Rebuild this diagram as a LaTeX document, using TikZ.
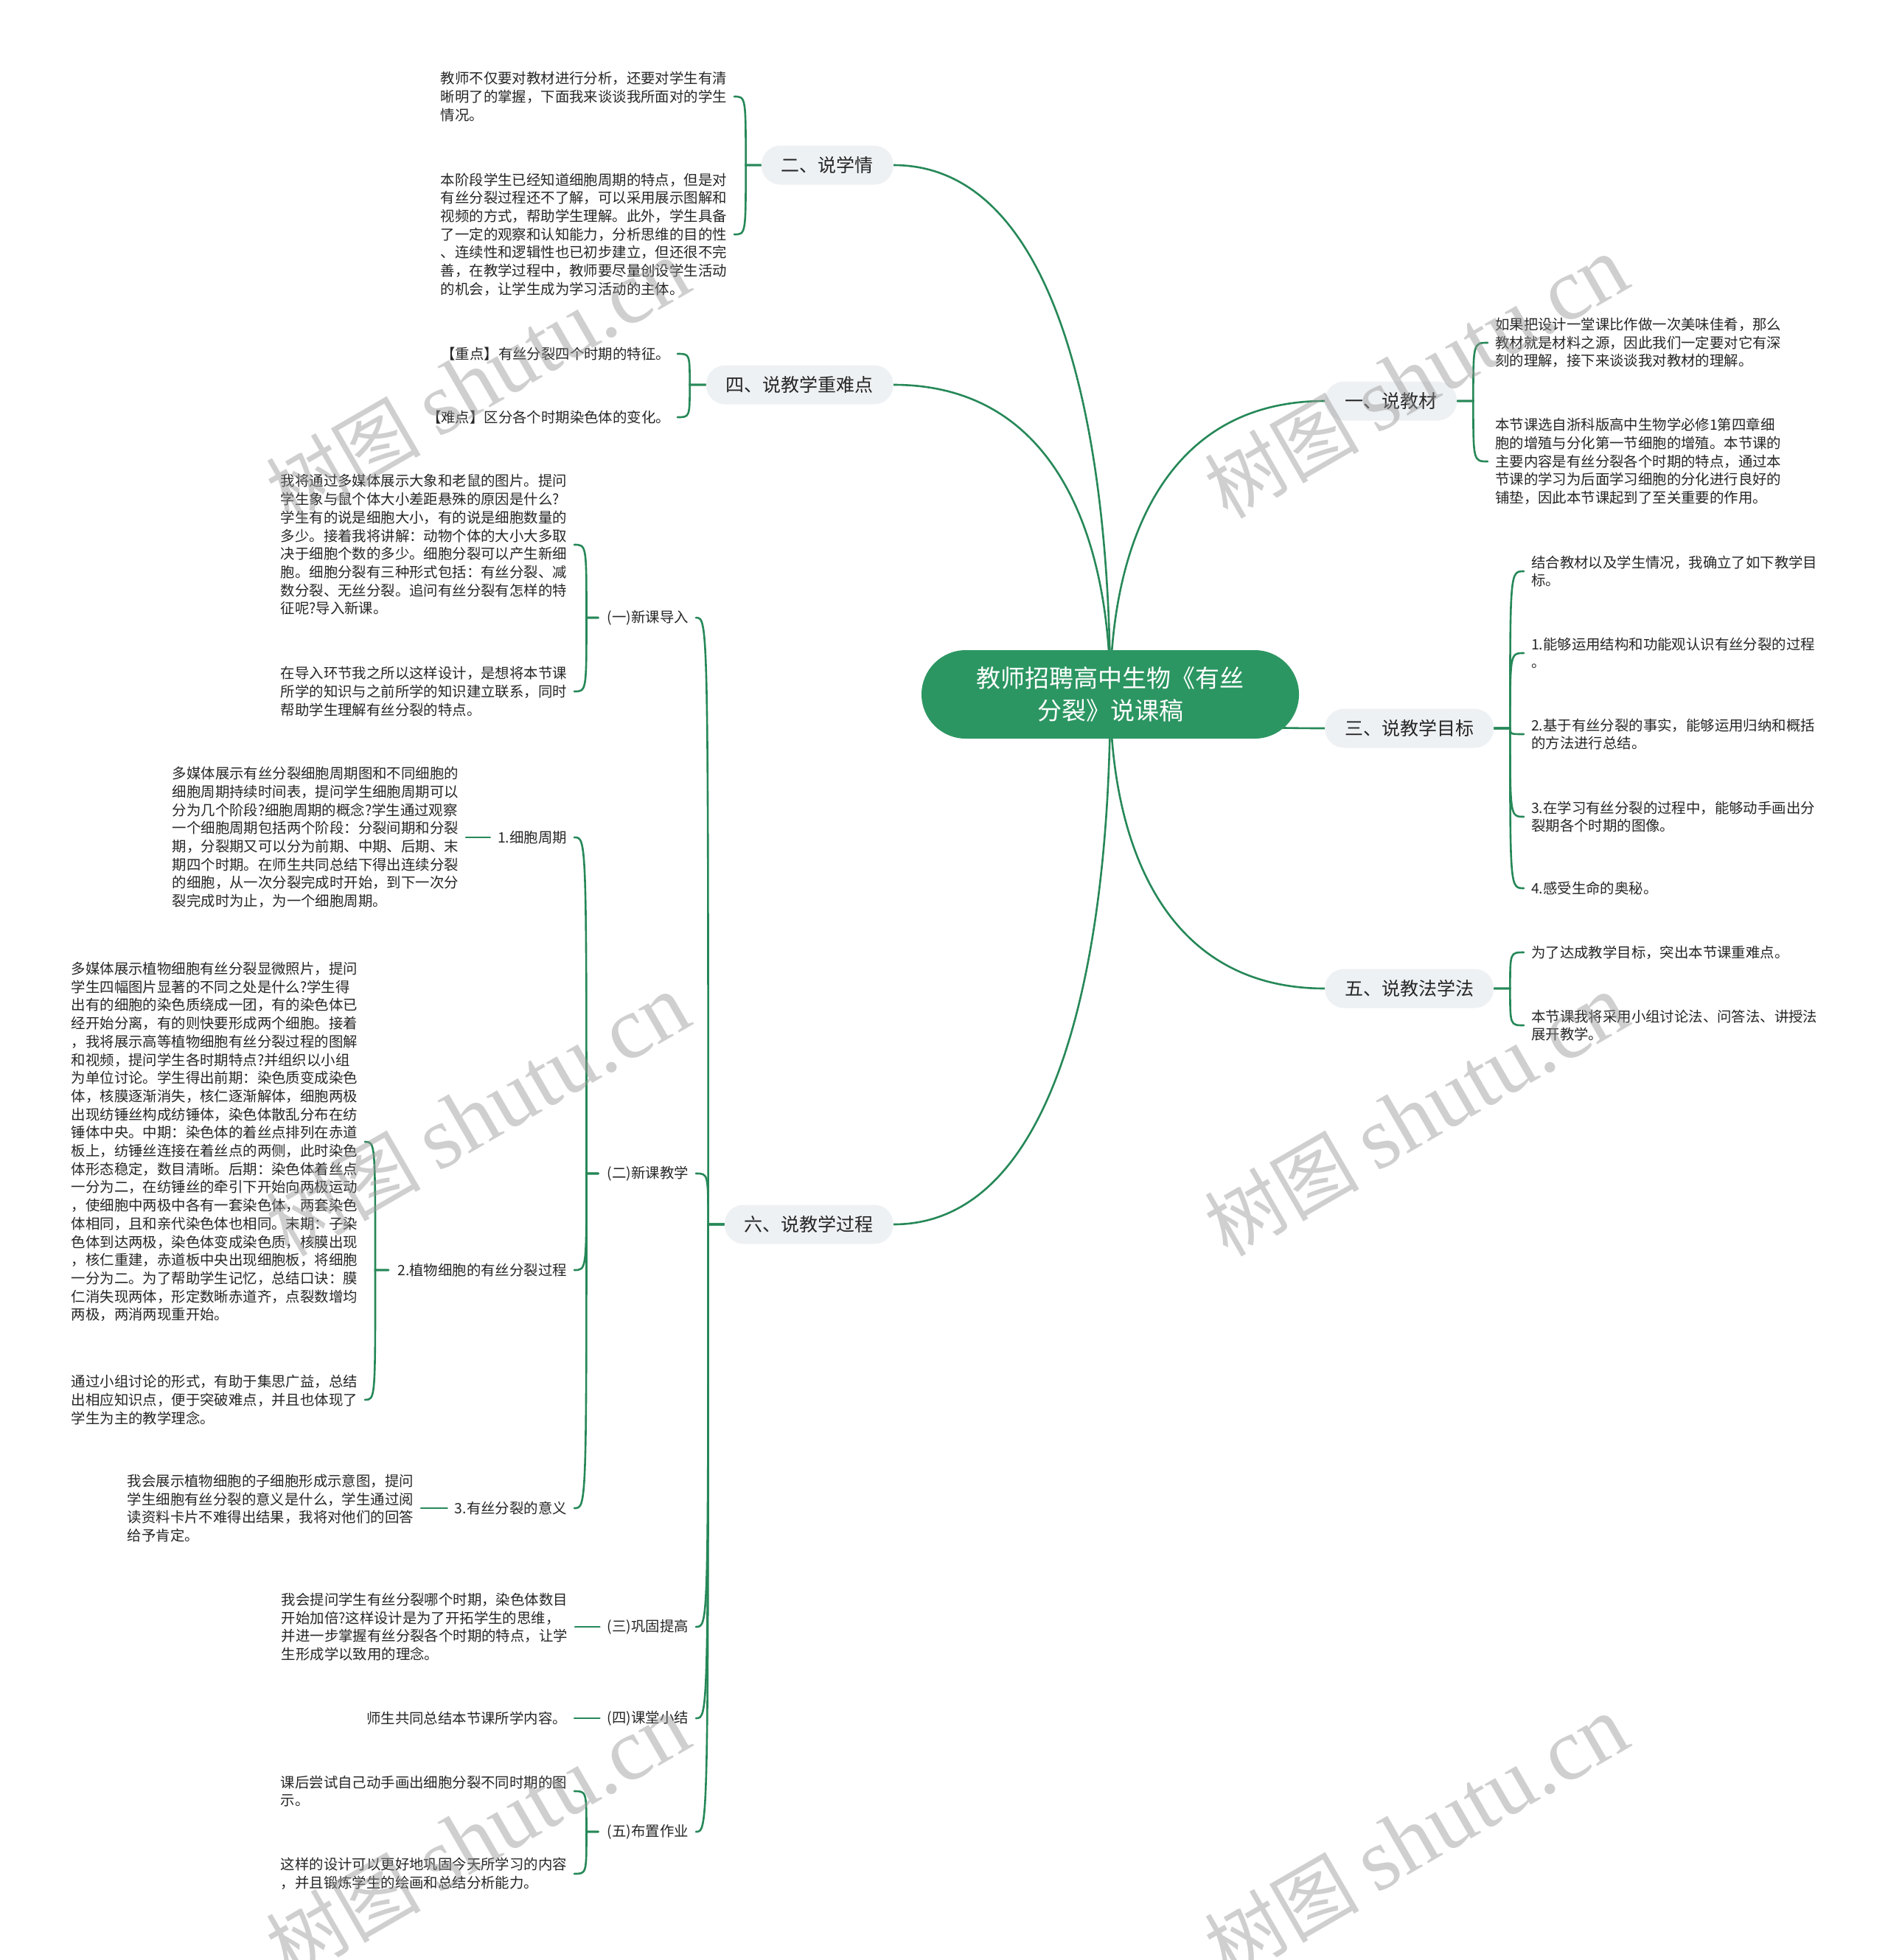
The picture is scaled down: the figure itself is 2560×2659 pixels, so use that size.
\documentclass[tikz,border=0pt]{standalone}
\usepackage{fontspec}
\setmainfont{Noto Sans CJK SC}
\newfontfamily\wmserif{Liberation Serif}
\usetikzlibrary{calc}
\pgfdeclarelayer{bg}
\pgfdeclarelayer{fg}
\pgfsetlayers{bg,main,fg}
\definecolor{rootgreen}{RGB}{44,150,98}
\definecolor{linegreen}{RGB}{38,136,88}
\definecolor{boxgray}{RGB}{238,241,244}
\definecolor{txt}{RGB}{38,38,38}
\definecolor{wmgray}{RGB}{150,150,150}
\newcommand{\rootlink}[1]{\draw[conn] let \p1=(#1), \p2=(root.center) in (\p1) .. controls ($(\p1)!0.77!(\x2,\y1)$) and ($(\p2)!0.48!(\x2,\y1)$) .. (\p2);}
\newcommand{\brL}[4]{\draw[conn] let \p1=($(#1.west)+(-#4,0)$), \p2=($(#2.east)+(10,0)$) in ($(#1.west)+(-#3,0)$) -- (\p1) .. controls (\x1,\y2) and (\x1,\y2) .. (\p2);}
\newcommand{\brR}[4]{\draw[conn] let \p1=($(#1.east)+(#4,0)$), \p2=($(#2.west)+(-10,0)$) in ($(#1.east)+(#3,0)$) -- (\p1) .. controls (\x1,\y2) and (\x1,\y2) .. (\p2);}
\newcommand{\lnL}[2]{\draw[conn] ($(#1.west)+(-10,0)$) -- ($(#2.east)+(10,0)$);}
\begin{document}
\begin{tikzpicture}[x=1pt,y=-1pt,
  rootnode/.style={fill=rootgreen,text=white,rounded corners=60pt,minimum width=512pt,minimum height=120pt,align=center,inner sep=0pt,font=\fontsize{33}{44}\selectfont},
  lvlone/.style={fill=boxgray,text=txt,rounded corners=26pt,minimum height=53pt,inner xsep=27pt,inner ysep=0pt,font=\fontsize{25}{30}\selectfont},
  leaf/.style={text=txt,align=left,inner sep=0pt,font=\fontsize{19.4}{24.7}\selectfont},
  lf/.style={leaf,anchor=east},
  rt/.style={leaf,anchor=west},
  conn/.style={draw=linegreen,line width=2.6pt,line cap=round},
  wm/.style={text=wmgray,opacity=0.45,rotate=30,inner sep=0pt}]
\useasboundingbox (0,0) rectangle (2560,2659);

% root and first level
\node[rootnode] (root) at (1506,942) {教师招聘高中生物《有丝\\分裂》说课稿};
\node[lvlone,anchor=east] (n2) at (1212,224) {二、说学情};
\node[lvlone,anchor=east] (n4) at (1212,522) {四、说教学重难点};
\node[lvlone,anchor=east] (n6) at (1212,1661) {六、说教学过程};
\node[lvlone,anchor=west] (n1) at (1797,544) {一、说教材};
\node[lvlone,anchor=west] (n3) at (1797,988) {三、说教学目标};
\node[lvlone,anchor=west] (n5) at (1797,1341) {五、说教法学法};

% 二、说学情
\node[lf] (a1) at (986,131) {教师不仅要对教材进行分析，还要对学生有清\\晰明了的掌握，下面我来谈谈我所面对的学生\\情况。};
\node[lf] (a2) at (986,318) {本阶段学生已经知道细胞周期的特点，但是对\\有丝分裂过程还不了解，可以采用展示图解和\\视频的方式，帮助学生理解。此外，学生具备\\了一定的观察和认知能力，分析思维的目的性\\、连续性和逻辑性也已初步建立，但还很不完\\善，在教学过程中，教师要尽量创设学生活动\\的机会，让学生成为学习活动的主体。};

% 四、说教学重难点
\node[lf] (b1) at (909,480) {【重点】有丝分裂四个时期的特征。};
\node[lf] (b2) at (909,566) {【难点】区分各个时期染色体的变化。};

% 六、说教学过程
\node[lf] (l1) at (934,838) {(一)新课导入};
\node[lf] (l2) at (934,1592) {(二)新课教学};
\node[lf] (l3) at (934,2207) {(三)巩固提高};
\node[lf] (l4) at (934,2331) {(四)课堂小结};
\node[lf] (l5) at (934,2485) {(五)布置作业};

\node[lf] (c1) at (769,739) {我将通过多媒体展示大象和老鼠的图片。提问\\学生象与鼠个体大小差距悬殊的原因是什么?\\学生有的说是细胞大小，有的说是细胞数量的\\多少。接着我将讲解：动物个体的大小大多取\\决于细胞个数的多少。细胞分裂可以产生新细\\胞。细胞分裂有三种形式包括：有丝分裂、减\\数分裂、无丝分裂。追问有丝分裂有怎样的特\\征呢?导入新课。};
\node[lf] (c2) at (769,938) {在导入环节我之所以这样设计，是想将本节课\\所学的知识与之前所学的知识建立联系，同时\\帮助学生理解有丝分裂的特点。};

\node[lf] (m1) at (769,1136) {1.细胞周期};
\node[lf] (m2) at (769,1723) {2.植物细胞的有丝分裂过程};
\node[lf] (m3) at (769,2046) {3.有丝分裂的意义};

\node[lf] (d1) at (622,1136) {多媒体展示有丝分裂细胞周期图和不同细胞的\\细胞周期持续时间表，提问学生细胞周期可以\\分为几个阶段?细胞周期的概念?学生通过观察\\一个细胞周期包括两个阶段：分裂间期和分裂\\期，分裂期又可以分为前期、中期、后期、末\\期四个时期。在师生共同总结下得出连续分裂\\的细胞，从一次分裂完成时开始，到下一次分\\裂完成时为止，为一个细胞周期。};
\node[lf] (e1) at (485,1549) {多媒体展示植物细胞有丝分裂显微照片，提问\\学生四幅图片显著的不同之处是什么?学生得\\出有的细胞的染色质绕成一团，有的染色体已\\经开始分离，有的则快要形成两个细胞。接着\\，我将展示高等植物细胞有丝分裂过程的图解\\和视频，提问学生各时期特点?并组织以小组\\为单位讨论。学生得出前期：染色质变成染色\\体，核膜逐渐消失，核仁逐渐解体，细胞两极\\出现纺锤丝构成纺锤体，染色体散乱分布在纺\\锤体中央。中期：染色体的着丝点排列在赤道\\板上，纺锤丝连接在着丝点的两侧，此时染色\\体形态稳定，数目清晰。后期：染色体着丝点\\一分为二，在纺锤丝的牵引下开始向两极运动\\，使细胞中两极中各有一套染色体，两套染色\\体相同，且和亲代染色体也相同。末期：子染\\色体到达两极，染色体变成染色质，核膜出现\\，核仁重建，赤道板中央出现细胞板，将细胞\\一分为二。为了帮助学生记忆，总结口诀：膜\\仁消失现两体，形定数晰赤道齐，点裂数增均\\两极，两消两现重开始。};
\node[lf] (e2) at (485,1899) {通过小组讨论的形式，有助于集思广益，总结\\出相应知识点，便于突破难点，并且也体现了\\学生为主的教学理念。};
\node[lf] (f1) at (561,2046) {我会展示植物细胞的子细胞形成示意图，提问\\学生细胞有丝分裂的意义是什么，学生通过阅\\读资料卡片不难得出结果，我将对他们的回答\\给予肯定。};

\node[lf] (g1) at (770,2207) {我会提问学生有丝分裂哪个时期，染色体数目\\开始加倍?这样设计是为了开拓学生的思维，\\并进一步掌握有丝分裂各个时期的特点，让学\\生形成学以致用的理念。};
\node[lf] (h1) at (769,2331) {师生共同总结本节课所学内容。};
\node[lf] (k1) at (769,2430) {课后尝试自己动手画出细胞分裂不同时期的图\\示。};
\node[lf] (k2) at (769,2542) {这样的设计可以更好地巩固今天所学习的内容\\，并且锻炼学生的绘画和总结分析能力。};

% 一、说教材
\node[rt] (p1) at (2028,465) {如果把设计一堂课比作做一次美味佳肴，那么\\教材就是材料之源，因此我们一定要对它有深\\刻的理解，接下来谈谈我对教材的理解。};
\node[rt] (p2) at (2028,626) {本节课选自浙科版高中生物学必修1第四章细\\胞的增殖与分化第一节细胞的增殖。本节课的\\主要内容是有丝分裂各个时期的特点，通过本\\节课的学习为后面学习细胞的分化进行良好的\\铺垫，因此本节课起到了至关重要的作用。};

% 三、说教学目标
\node[rt] (q1) at (2077,775) {结合教材以及学生情况，我确立了如下教学目\\标。};
\node[rt] (q2) at (2077,886) {1.能够运用结构和功能观认识有丝分裂的过程\\。};
\node[rt] (q3) at (2077,996) {2.基于有丝分裂的事实，能够运用归纳和概括\\的方法进行总结。};
\node[rt] (q4) at (2077,1108) {3.在学习有丝分裂的过程中，能够动手画出分\\裂期各个时期的图像。};
\node[rt] (q5) at (2077,1205) {4.感受生命的奥秘。};

% 五、说教法学法
\node[rt] (r1) at (2077,1292) {为了达成教学目标，突出本节课重难点。};
\node[rt] (r2) at (2077,1391) {本节课我将采用小组讨论法、问答法、讲授法\\展开教学。};

\begin{pgfonlayer}{bg}
\fill[white] (0,0) rectangle (2560,2659);
\rootlink{n2.east}
\rootlink{n4.east}
\rootlink{n6.east}
\rootlink{n1.west}
\rootlink{n3.west}
\rootlink{n5.west}
\brL{n2}{a1}{0}{21}\brL{n2}{a2}{0}{21}
\brL{n4}{b1}{0}{22}\brL{n4}{b2}{0}{22}
\brL{n6}{l1}{0}{22}\brL{n6}{l2}{0}{22}\brL{n6}{l3}{0}{22}\brL{n6}{l4}{0}{22}\brL{n6}{l5}{0}{22}
\brL{l1}{c1}{12}{28}\brL{l1}{c2}{12}{28}
\brL{l2}{m1}{12}{28}\brL{l2}{m2}{12}{28}\brL{l2}{m3}{12}{28}
\lnL{m1}{d1}
\brL{m2}{e1}{12}{30}\brL{m2}{e2}{12}{30}
\lnL{m3}{f1}
\lnL{l3}{g1}
\lnL{l4}{h1}
\brL{l5}{k1}{12}{28}\brL{l5}{k2}{12}{28}
\brR{n1}{p1}{0}{22}\brR{n1}{p2}{0}{22}
\brR{n3}{q1}{0}{22}\brR{n3}{q2}{0}{22}\brR{n3}{q3}{0}{22}\brR{n3}{q4}{0}{22}\brR{n3}{q5}{0}{22}
\brR{n5}{r1}{0}{22}\brR{n5}{r2}{0}{22}
\end{pgfonlayer}

\begin{pgfonlayer}{fg}
\node[wm] (w1) at (648,517) {\fontsize{105}{110}\selectfont 树图 {\wmserif\fontsize{120}{120}\selectfont shutu.cn}};
\node[wm] (w2) at (1921,512) {\fontsize{105}{110}\selectfont 树图 {\wmserif\fontsize{120}{120}\selectfont shutu.cn}};
\node[wm] (w3) at (648,1513) {\fontsize{105}{110}\selectfont 树图 {\wmserif\fontsize{120}{120}\selectfont shutu.cn}};
\node[wm] (w4) at (1921,1513) {\fontsize{105}{110}\selectfont 树图 {\wmserif\fontsize{120}{120}\selectfont shutu.cn}};
\node[wm] (w5) at (648,2492) {\fontsize{105}{110}\selectfont 树图 {\wmserif\fontsize{120}{120}\selectfont shutu.cn}};
\node[wm] (w6) at (1921,2492) {\fontsize{105}{110}\selectfont 树图 {\wmserif\fontsize{120}{120}\selectfont shutu.cn}};
\end{pgfonlayer}
\end{tikzpicture}
\end{document}
